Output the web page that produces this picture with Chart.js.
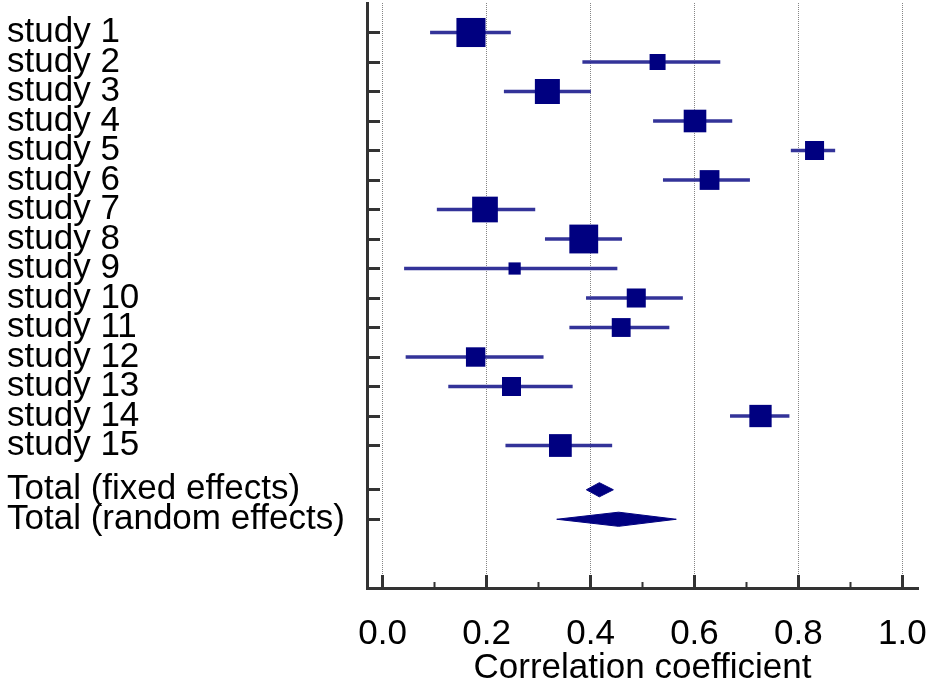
<!DOCTYPE html>
<html>
<head>
<meta charset="utf-8">
<script src="https://cdn.jsdelivr.net/npm/chart.js@4.4.1/dist/chart.umd.min.js"></script>
<style>
  html, body { margin: 0; padding: 0; background: #ffffff; }
  #c { display: block; }
</style>
</head>
<body>
<canvas id="c" width="928" height="687"></canvas>
<script>
// ---------------- DATA ----------------
const studyLabels = ['study 1','study 2','study 3','study 4','study 5','study 6','study 7','study 8',
                     'study 9','study 10','study 11','study 12','study 13','study 14','study 15'];
const estimates = [0.170,0.529,0.317,0.601,0.831,0.629,0.197,0.387,0.254,0.488,0.459,0.179,0.248,0.727,0.342];
const lowerCI   = [0.092,0.385,0.234,0.521,0.786,0.540,0.105,0.313,0.042,0.392,0.360,0.045,0.127,0.669,0.237];
const upperCI   = [0.246,0.649,0.400,0.672,0.870,0.706,0.293,0.460,0.451,0.577,0.551,0.309,0.365,0.782,0.441];
const weights   = [11.9,3.6,8.8,7.2,5.1,5.5,9.3,11.7,2.1,5.1,5.0,5.3,5.1,7.0,7.3]; // relative weight (%)

const pooledLabels    = ['Total (fixed effects)','Total (random effects)'];
const pooledEstimates = [0.417,0.454];
const pooledLower     = [0.392,0.335];
const pooledUpper     = [0.444,0.565];

const xTickValues      = [0.0,0.2,0.4,0.6,0.8,1.0];
const xMinorTickValues = [0.1,0.3,0.5,0.7,0.9];
const xAxisTitle = 'Correlation coefficient';

// ---------------- LAYOUT / STYLE ----------------
const FONT = '"Liberation Sans", Arial, Helvetica, sans-serif';
const FONT_SIZE = 35;
const NAVY = '#000080';
const CI_COLOR = '#333399';
const AXIS_COLOR = '#333333';
const nStudies = studyLabels.length;
const studyRows  = studyLabels.map((_, i) => i + 1);
const pooledRows = pooledLabels.map((_, i) => nStudies + 1.5 + i);
const allRows   = studyRows.concat(pooledRows);
const allLabels = studyLabels.concat(pooledLabels);
const Y_MAX = 19.83;
const DIAMOND_HALF = 0.24;       // in row units
const SIDE_PER_SQRT_W = 8.43;    // square side (px) per sqrt(weight)

const ciData  = studyRows.map((r, i) => ({ y: r, x: [lowerCI[i], upperCI[i]] }));
const estData = studyRows.map((r, i) => ({ x: estimates[i], y: r }));

function diamond(i) {
  const r = pooledRows[i];
  return [
    { x: pooledLower[i], y: r },
    { x: pooledEstimates[i], y: r - DIAMOND_HALF },
    { x: pooledUpper[i], y: r },
    { x: pooledEstimates[i], y: r + DIAMOND_HALF },
    { x: pooledLower[i], y: r }
  ];
}

const datasets = [
  {
    type: 'bar', label: 'CI', indexAxis: 'y', data: ciData,
    backgroundColor: CI_COLOR, borderWidth: 0, barThickness: 3,
    xAxisID: 'x', yAxisID: 'y', order: 3
  },
  {
    type: 'scatter', label: 'Estimate', data: estData,
    pointStyle: 'rect',
    pointRadius: c => SIDE_PER_SQRT_W * Math.sqrt(weights[c.dataIndex]) / Math.SQRT2,
    pointHoverRadius: c => SIDE_PER_SQRT_W * Math.sqrt(weights[c.dataIndex]) / Math.SQRT2,
    backgroundColor: NAVY, borderColor: NAVY, borderWidth: 0,
    xAxisID: 'x', yAxisID: 'y', order: 1
  }
];
pooledLabels.forEach((_, i) => {
  datasets.push({
    type: 'scatter', label: pooledLabels[i], data: diamond(i),
    showLine: true, tension: 0, fill: 'shape',
    backgroundColor: NAVY, borderColor: NAVY, borderWidth: 1,
    pointRadius: 0, pointHoverRadius: 0,
    xAxisID: 'x', yAxisID: 'y', order: 1
  });
});

function noPadding(s) {
  s.paddingLeft = 0; s.paddingRight = 0; s.paddingTop = 0; s.paddingBottom = 0;
}

new Chart(document.getElementById('c').getContext('2d'), {
  type: 'scatter',
  data: { datasets },
  options: {
    responsive: false,
    animation: false,
    devicePixelRatio: 1,
    events: [],
    layout: { autoPadding: false, padding: { left: 7, top: 3, right: 10, bottom: 0 } },
    plugins: { legend: { display: false }, tooltip: { enabled: false } },
    scales: {
      x: {
        type: 'linear', position: 'bottom', weight: 1,
        min: -0.03, max: 1.03,
        afterBuildTicks: s => { s.ticks = xTickValues.map(v => ({ value: v })); },
        afterFit: s => { s.height = 99; noPadding(s); },
        ticks: {
          callback: v => Number(v).toFixed(1),
          font: { family: FONT, size: FONT_SIZE }, color: '#000000',
          padding: 38, maxRotation: 0, autoSkip: false
        },
        grid: {
          display: true, drawOnChartArea: true, color: '#858585', lineWidth: 1,
          drawTicks: true, tickLength: -13, tickWidth: 3, tickColor: AXIS_COLOR
        },
        border: { display: true, color: AXIS_COLOR, width: 3, dash: [1, 1] },
        title: {
          display: true, text: xAxisTitle,
          font: { family: FONT, size: FONT_SIZE }, color: '#000000',
          padding: { top: 0, bottom: -2 }
        }
      },
      x2: {
        type: 'linear', position: 'bottom', weight: 0,
        min: -0.03, max: 1.03,
        afterBuildTicks: s => { s.ticks = xMinorTickValues.map(v => ({ value: v })); },
        afterFit: s => { s.height = 0; noPadding(s); },
        ticks: { display: false },
        grid: {
          display: true, drawOnChartArea: false,
          drawTicks: true, tickLength: -6, tickWidth: 2, tickColor: AXIS_COLOR
        },
        border: { display: false }
      },
      y: {
        type: 'linear', position: 'left', reverse: true,
        min: 0, max: Y_MAX, offset: false,
        afterBuildTicks: s => { s.ticks = allRows.map(v => ({ value: v })); },
        afterFit: s => { s.width = 360; noPadding(s); },
        ticks: {
          autoSkip: false, crossAlign: 'far',
          font: { family: FONT, size: FONT_SIZE }, color: '#000000',
          callback: (v, i) => allLabels[i]
        },
        grid: {
          display: true, drawOnChartArea: false, offset: false,
          drawTicks: true, tickLength: -13, tickWidth: 3, tickColor: AXIS_COLOR
        },
        border: { display: true, color: AXIS_COLOR, width: 3 }
      }
    }
  }
});
</script>
</body>
</html>
